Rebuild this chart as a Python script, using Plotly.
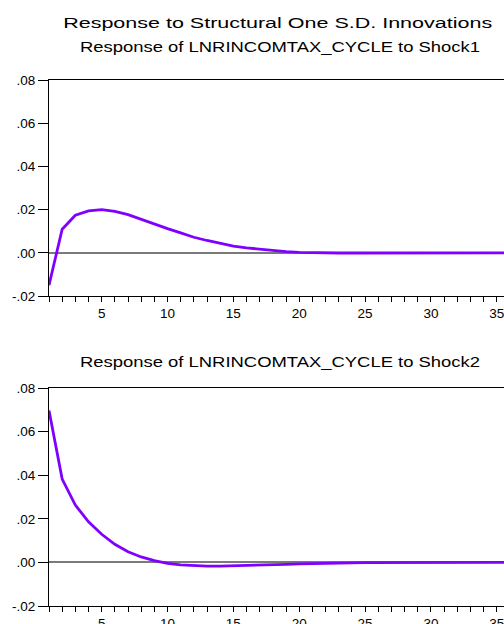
import plotly.graph_objects as go

periods = list(range(1, 37))
shock1 = [-0.0150, 0.0109, 0.0174, 0.0194, 0.0200, 0.0192, 0.0177, 0.0155, 0.0132, 0.0112,
          0.0092, 0.0072, 0.0057, 0.0043, 0.0031, 0.0023, 0.0016, 0.0010, 0.0005, 0.0002,
          0.0000, -0.0001, -0.0001, -0.0001, -0.0001, -0.0001, -0.0001, 0.0000, 0.0000, 0.0000,
          0.0000, 0.0000, 0.0000, 0.0000, 0.0000, 0.0000]
shock2 = [0.0697, 0.0382, 0.0263, 0.0186, 0.0129, 0.0083, 0.0049, 0.0025, 0.0008, -0.0004,
          -0.0011, -0.0015, -0.0017, -0.0017, -0.0016, -0.0015, -0.0013, -0.0011, -0.0009, -0.0007,
          -0.0005, -0.0004, -0.0003, -0.0002, -0.0001, -0.0001, 0.0000, 0.0000, 0.0000, 0.0000,
          0.0000, 0.0000, 0.0000, 0.0000, 0.0000, 0.0000]
ytickvals = [-0.02, 0.00, 0.02, 0.04, 0.06, 0.08]
yticktext = ["-.02", ".00", ".02", ".04", ".06", ".08"]
xtickvals = [5, 10, 15, 20, 25, 30, 35]
main_title = "Response to Structural One S.D. Innovations"
subtitles = ["Response of LNRINCOMTAX_CYCLE to Shock1", "Response of LNRINCOMTAX_CYCLE to Shock2"]

W, H = 504, 624
LINE = "#8000FF"
FONT = "Liberation Sans, Arial, sans-serif"

fig = go.Figure()
fig.add_trace(go.Scatter(x=periods, y=shock1, mode="lines", line=dict(color=LINE, width=2.8),
                         xaxis="x", yaxis="y", showlegend=False, hoverinfo="skip"))
fig.add_trace(go.Scatter(x=periods, y=shock2, mode="lines", line=dict(color=LINE, width=2.8),
                         xaxis="x2", yaxis="y2", showlegend=False, hoverinfo="skip"))

def py(p):
    return (H - p) / H

xdom = [49 / W, 1.0]
xaxis_common = dict(domain=xdom, range=[1, 35.55], tickmode="array", tickvals=xtickvals,
                    ticks="outside", ticklen=5, tickcolor="black", tickwidth=1,
                    showline=True, linecolor="black", linewidth=1, mirror=True,
                    showgrid=False, zeroline=False, automargin=False,
                    ticklabeloverflow="allow",
                    tickfont=dict(family=FONT, size=13.5, color="black"),
                    minor=dict(dtick=1, tick0=1, ticks="outside", ticklen=5, tickcolor="black", showgrid=False))
yaxis_common = dict(range=[-0.02, 0.08], tickmode="array", tickvals=ytickvals, ticktext=yticktext,
                    ticks="outside", ticklen=10, tickcolor="black", tickwidth=1,
                    showline=True, linecolor="black", linewidth=1, mirror=False,
                    showgrid=False, zeroline=True, zerolinecolor="#7a7a7a", zerolinewidth=1.5,
                    automargin=False, ticklabeloverflow="allow",
                    tickfont=dict(family=FONT, size=13.5, color="black"))

fig.update_layout(
    width=W, height=H,
    margin=dict(l=0, r=0, t=0, b=0, autoexpand=False),
    paper_bgcolor="white", plot_bgcolor="white",
    xaxis=dict(anchor="y", **xaxis_common),
    yaxis=dict(anchor="x", domain=[py(296), py(80)], **yaxis_common),
    xaxis2=dict(anchor="y2", **xaxis_common),
    yaxis2=dict(anchor="x2", domain=[py(606), py(388)], **yaxis_common),
    annotations=[
        dict(text=main_title, x=(63 + 492) / 2 / W, y=py(22.5), xref="paper", yref="paper",
             xanchor="center", yanchor="middle", showarrow=False,
             font=dict(family=FONT, size=15.5, color="black")),
        dict(text=subtitles[0], x=(80 + 480) / 2 / W, y=py(47), xref="paper", yref="paper",
             xanchor="center", yanchor="middle", showarrow=False,
             font=dict(family=FONT, size=14, color="black")),
        dict(text=subtitles[1], x=(80 + 480) / 2 / W, y=py(362), xref="paper", yref="paper",
             xanchor="center", yanchor="middle", showarrow=False,
             font=dict(family=FONT, size=14, color="black")),
    ],
)

# Remove default page margin and stretch the title texts to the reference widths.
post = """
document.body.style.margin = '0';
document.body.style.padding = '0';
var gd = document.getElementById('{plot_id}');
function stretch() {
  var widths = [429, 400, 400];
  var els = gd.querySelectorAll('.annotation-text');
  for (var i = 0; i < els.length && i < widths.length; i++) {
    els[i].setAttribute('textLength', widths[i]);
    els[i].setAttribute('lengthAdjust', 'spacingAndGlyphs');
  }
}
stretch();
gd.on('plotly_afterplot', stretch);
"""

fig.write_html("out.html", post_script=post, config={"displayModeBar": False})
